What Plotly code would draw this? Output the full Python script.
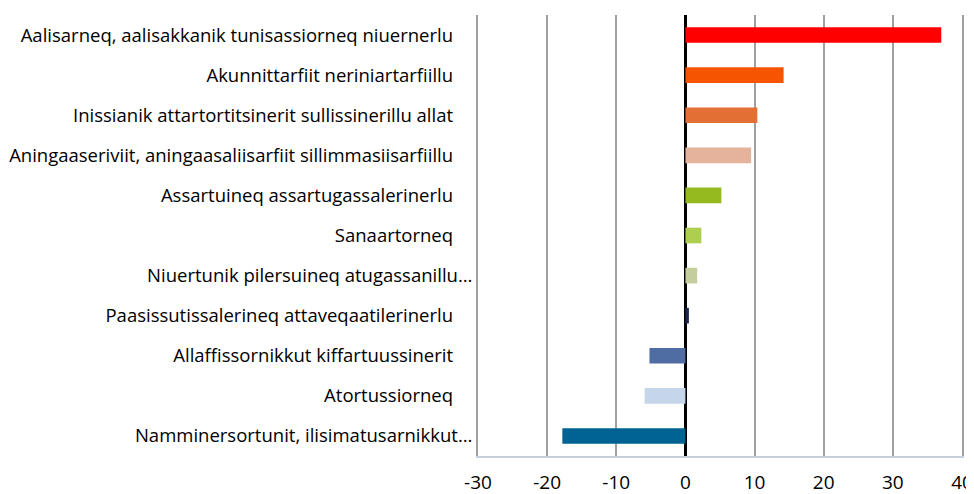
import plotly.graph_objects as go

NBSP = "\u00a0"
categories = [
    "Aalisarneq, aalisakkanik tunisassiorneq niuernerlu",
    "Akunnittarfiit neriniartarfiillu",
    "Inissianik attartortitsinerit sullissinerillu allat",
    "Aningaaseriviit, aningaasaliisarfiit sillimmasiisarfiillu",
    "Assartuineq assartugassalerinerlu",
    "Sanaartorneq",
    "Niuertunik pilersuineq atugassanillu…",
    "Paasissutissalerineq attaveqaatilerinerlu",
    "Allaffissornikkut kiffartuussinerit",
    "Atortussiorneq",
    "Namminersortunit, ilisimatusarnikkut…",
]
values = [37.0, 14.2, 10.4, 9.5, 5.2, 2.3, 1.7, 0.5, -5.2, -5.9, -17.8]
colors = ["#ff0000", "#f75400", "#e46f34", "#e5b39b", "#94ba20", "#adce4e",
          "#c3ce9c", "#1a2850", "#4f6ca3", "#c6d6ea", "#006391"]
x_ticks = [-30, -20, -10, 0, 10, 20, 30, 40]

labels = [c if c.endswith("…") else c + NBSP * 4 for c in categories]

fig = go.Figure(go.Bar(
    y=labels, x=values, orientation="h",
    marker=dict(color=colors, line=dict(width=0)),
    width=0.39,
))
fig.update_layout(
    width=966, height=486,
    margin=dict(l=470, r=12, t=7, b=38),
    paper_bgcolor="white", plot_bgcolor="white",
    showlegend=False,
    font=dict(family="Open Sans, sans-serif", color="#000000"),
)
fig.update_xaxes(
    range=[-30, 40], tickvals=x_ticks, ticktext=[str(v) for v in x_ticks],
    showgrid=True, gridcolor="#a0a0a0", gridwidth=2,
    zeroline=True, zerolinecolor="#000000", zerolinewidth=2.5,
    showline=True, linecolor="#c8d0dc", linewidth=1.5,
    tickfont=dict(size=19), ticks="", ticklabelstandoff=8,
    fixedrange=True, automargin=False,
)
fig.update_yaxes(
    autorange="reversed", showgrid=False, zeroline=False,
    showline=True, mirror=True, linecolor="#a0a0a0", linewidth=2,
    tickfont=dict(size=18.5), ticks="", ticklabelstandoff=0, fixedrange=True,
    automargin=False,
)
fig.write_html("out.html")
